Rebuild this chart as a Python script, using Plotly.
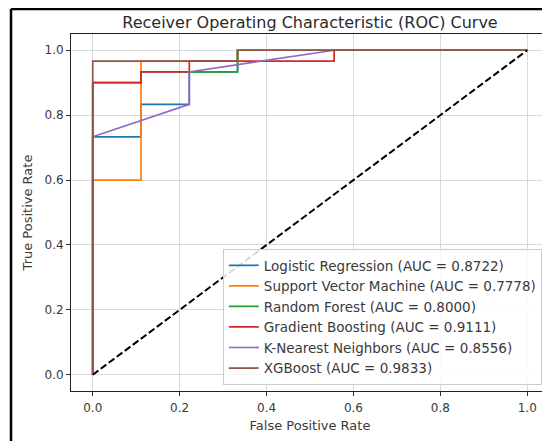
import plotly.graph_objects as go

# ROC curve data (fpr / tpr points)
lr_fpr = [0.0, 0.0, 0.1111, 0.1111, 0.2222, 0.2222, 0.3333, 0.3333, 1.0]
lr_tpr = [0.0, 0.7333, 0.7333, 0.8333, 0.8333, 0.9333, 0.9333, 1.0, 1.0]

svm_fpr = [0.0, 0.0, 0.1111, 0.1111, 0.3333, 0.3333, 1.0]
svm_tpr = [0.0, 0.6, 0.6, 0.9667, 0.9667, 1.0, 1.0]

rf_fpr = [0.0, 0.0, 0.1111, 0.1111, 0.3333, 0.3333, 1.0]
rf_tpr = [0.0, 0.9, 0.9, 0.9333, 0.9333, 1.0, 1.0]

gb_fpr = [0.0, 0.0, 0.1111, 0.1111, 0.2222, 0.2222, 0.5556, 0.5556, 1.0]
gb_tpr = [0.0, 0.9, 0.9, 0.9333, 0.9333, 0.9667, 0.9667, 1.0, 1.0]

knn_fpr = [0.0, 0.0, 0.2222, 0.2222, 0.5556, 1.0]
knn_tpr = [0.0, 0.7333, 0.8333, 0.9333, 1.0, 1.0]

xgb_fpr = [0.0, 0.0, 0.3333, 0.3333, 1.0]
xgb_tpr = [0.0, 0.9667, 0.9667, 1.0, 1.0]

model_names = ["Logistic Regression", "Support Vector Machine", "Random Forest",
               "Gradient Boosting", "K-Nearest Neighbors", "XGBoost"]
auc_values = [0.8722, 0.7778, 0.8000, 0.9111, 0.8556, 0.9833]
colors = ["#1f77b4", "#ff7f0e", "#2ca02c", "#d62728", "#9467bd", "#8c564b"]

chance_x = [0.0, 1.0]
chance_y = [0.0, 1.0]

x_ticks = [0.0, 0.2, 0.4, 0.6, 0.8, 1.0]
y_ticks = [0.0, 0.2, 0.4, 0.6, 0.8, 1.0]

curves = [(lr_fpr, lr_tpr), (svm_fpr, svm_tpr), (rf_fpr, rf_tpr),
          (gb_fpr, gb_tpr), (knn_fpr, knn_tpr), (xgb_fpr, xgb_tpr)]

FONT = "DejaVu Sans"
TXT = "#3a3a3a"
fig = go.Figure()
for (fx, fy), name, auc, col in zip(curves, model_names, auc_values, colors):
    fig.add_trace(go.Scatter(x=fx, y=fy, mode="lines",
                             line=dict(color=col, width=1.7),
                             name=f"{name} (AUC = {auc:.4f})"))

fig.add_trace(go.Scatter(x=chance_x, y=chance_y, mode="lines",
                         line=dict(color="black", width=2, dash="7px,3px"),
                         showlegend=False))

axis_common = dict(showline=True, linecolor="#222", linewidth=1, mirror=True,
                   ticks="outside", ticklen=4, tickcolor="#333",
                   showgrid=True, gridcolor="#d9d9d9", gridwidth=1,
                   zeroline=False, automargin=False,
                   tickfont=dict(size=12, color=TXT, family=FONT))

fig.update_xaxes(range=[-0.05, 1.05], tickvals=x_ticks,
                 ticktext=[f"{v:.1f}" for v in x_ticks],
                 ticklabelstandoff=2,
                 title=dict(text="False Positive Rate", font=dict(size=13, color=TXT, family=FONT),
                            standoff=6),
                 **axis_common)
fig.update_yaxes(range=[-0.05, 1.05], tickvals=y_ticks,
                 ticktext=[f"{v:.1f}" for v in y_ticks],
                 title=dict(text="True Positive Rate", font=dict(size=13, color=TXT, family=FONT),
                            standoff=8),
                 **axis_common)

# the page body adds an 8px offset, so margins are shifted to compensate
fig.update_layout(
    width=550, height=441,
    margin=dict(l=63, r=9, t=26, b=58),
    paper_bgcolor="white", plot_bgcolor="white",
    title=dict(text="Receiver Operating Characteristic (ROC) Curve",
               x=0.5, xref="paper", xanchor="center",
               y=1 - 14 / 441, yref="container", yanchor="middle", automargin=False,
               font=dict(size=16, color="#2a2a2a", family=FONT)),
    legend=dict(x=0.985, y=0.0168, xanchor="right", yanchor="bottom",
                bgcolor="rgba(255,255,255,0.85)", bordercolor="#cccccc", borderwidth=1,
                font=dict(size=13.5, color=TXT, family=FONT),
                tracegroupgap=0, itemwidth=30),
    showlegend=True,
)

# black frame lines at the top and left of the image
fig.add_shape(type="line", xref="paper", yref="paper",
              x0=-0.1255, x1=1.05, y0=1.070, y1=1.070,
              line=dict(color="black", width=2.5))
fig.add_shape(type="line", xref="paper", yref="paper",
              x0=-0.1255, x1=-0.1255, y0=-0.2, y1=1.070,
              line=dict(color="black", width=2.5))

fig.write_html("out.html")
